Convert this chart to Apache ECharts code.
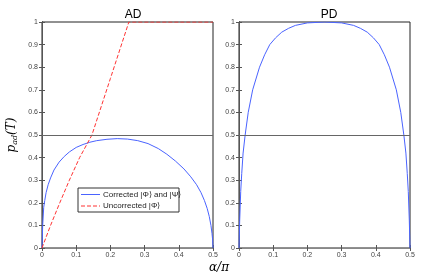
<!DOCTYPE html>
<html><head><meta charset="utf-8">
<script src="https://cdn.jsdelivr.net/npm/echarts@6/dist/echarts.min.js"></script>
<style>html,body{margin:0;padding:0;background:#fff}#c{width:436px;height:278px}</style>
</head><body><div id="c"></div>
<script>
// ---- data ----
const panelTitles = ['AD', 'PD'];
const legendNames = ['Corrected |\u03A6\u27E9 and |\u03A8\u27E9', 'Uncorrected |\u03A6\u27E9'];
const xTicks = [0, 0.1, 0.2, 0.3, 0.4, 0.5];
const yTicks = [0, 0.1, 0.2, 0.3, 0.4, 0.5, 0.6, 0.7, 0.8, 0.9, 1];
const refLevel = 0.5;

const adAlpha     = [0, 0.002, 0.005, 0.008, 0.012, 0.018, 0.025, 0.035, 0.05, 0.065, 0.08, 0.1, 0.12, 0.14, 0.16, 0.19, 0.22, 0.25, 0.28, 0.31, 0.34, 0.365, 0.39, 0.415, 0.435, 0.452, 0.465, 0.475, 0.483, 0.489, 0.494, 0.497, 0.499, 0.5];
const adCorrected = [0, 0.1, 0.18, 0.21, 0.245, 0.28, 0.31, 0.345, 0.38, 0.405, 0.425, 0.445, 0.458, 0.468, 0.475, 0.481, 0.484, 0.482, 0.475, 0.462, 0.44, 0.415, 0.385, 0.35, 0.315, 0.28, 0.245, 0.21, 0.175, 0.14, 0.1, 0.065, 0.035, 0];

const adUncAlpha  = [0, 0.025, 0.052, 0.08, 0.11, 0.146, 0.2, 0.254, 0.3, 0.4, 0.5];
const adUncorrected = [0, 0.1, 0.2, 0.3, 0.4, 0.5, 0.75, 1, 1, 1, 1];

const pdAlpha     = [0, 0.002, 0.005, 0.008, 0.012, 0.018, 0.027, 0.04, 0.06, 0.075, 0.09, 0.107, 0.125, 0.145, 0.165, 0.2, 0.25, 0.3, 0.335, 0.355, 0.375, 0.393, 0.41, 0.425, 0.44, 0.46, 0.473, 0.482, 0.488, 0.492, 0.495, 0.498, 0.5];
const pdCorrected = [0, 0.12, 0.25, 0.33, 0.42, 0.5, 0.6, 0.7, 0.8, 0.855, 0.9, 0.93, 0.955, 0.972, 0.985, 0.996, 1, 0.996, 0.985, 0.972, 0.955, 0.93, 0.9, 0.855, 0.8, 0.7, 0.6, 0.5, 0.42, 0.33, 0.25, 0.12, 0];

const zip = (a, b) => a.map((v, i) => [v, b[i]]);

const BLUE = '#4a63ff', RED = '#ff3333';
const tickFont = { fontSize: 7, color: '#444', fontFamily: 'Liberation Sans' };
const legFont = { fontSize: 8, fill: '#222', fontFamily: 'Liberation Sans' };

const grids = [
  { left: 42, top: 22, width: 171, height: 226, show: true, borderColor: '#222', borderWidth: 1 },
  { left: 239, top: 22, width: 171, height: 226, show: true, borderColor: '#222', borderWidth: 1 }
];

function xAx(g, pos, labels) {
  return { type: 'value', gridIndex: g, min: 0, max: 0.5, interval: 0.1, position: pos,
    axisLine: { show: true, lineStyle: { color: pos === 'bottom' ? '#777' : '#888', width: 1 } },
    axisTick: { show: true, inside: true, length: 3, lineStyle: { color: '#555' } },
    axisLabel: labels ? Object.assign({ margin: 4, formatter: v => String(+v.toFixed(1)) }, tickFont) : { show: false },
    splitLine: { show: false } };
}
function yAx(g, pos, labels) {
  return { type: 'value', gridIndex: g, min: 0, max: 1, interval: 0.1, position: pos,
    axisLine: { show: true, lineStyle: { color: pos === 'left' ? '#000' : '#555', width: 1 } },
    axisTick: { show: true, inside: true, length: 3, lineStyle: { color: '#555' } },
    axisLabel: labels ? Object.assign({ margin: 4, formatter: v => String(+v.toFixed(1)) }, tickFont) : { show: false },
    splitLine: { show: false } };
}

const option = {
  animation: false,
  backgroundColor: '#fff',
  title: [
    { text: panelTitles[0], left: 128, top: 4, textAlign: 'center', textStyle: { fontSize: 12, fontWeight: 'normal', color: '#000', fontFamily: 'Liberation Sans' } },
    { text: panelTitles[1], left: 324, top: 4, textAlign: 'center', textStyle: { fontSize: 12, fontWeight: 'normal', color: '#000', fontFamily: 'Liberation Sans' } }
  ],
  grid: grids,
  xAxis: [xAx(0, 'bottom', true), xAx(1, 'bottom', true), xAx(0, 'top', false), xAx(1, 'top', false)],
  yAxis: [yAx(0, 'left', true), yAx(1, 'left', true), yAx(0, 'right', false), yAx(1, 'right', false)],
  series: [
    { name: legendNames[0], type: 'line', xAxisIndex: 0, yAxisIndex: 0, data: zip(adAlpha, adCorrected),
      symbol: 'none', smooth: false, lineStyle: { color: BLUE, width: 1 }, itemStyle: { color: BLUE }, z: 3,
      markLine: { silent: true, symbol: 'none', label: { show: false }, lineStyle: { color: '#666', width: 1, type: 'solid' }, data: [{ yAxis: refLevel }] } },
    { name: legendNames[1], type: 'line', xAxisIndex: 0, yAxisIndex: 0, data: zip(adUncAlpha, adUncorrected),
      symbol: 'none', lineStyle: { color: RED, width: 1, type: [4, 2] }, itemStyle: { color: RED }, z: 4 },
    { name: 'pd', type: 'line', xAxisIndex: 1, yAxisIndex: 1, data: zip(pdAlpha, pdCorrected),
      symbol: 'none', smooth: false, lineStyle: { color: BLUE, width: 1 }, itemStyle: { color: BLUE }, z: 3,
      markLine: { silent: true, symbol: 'none', label: { show: false }, lineStyle: { color: '#666', width: 1, type: 'solid' }, data: [{ yAxis: refLevel }] } }
  ],
  graphic: [
    { type: 'text', x: 12, y: 135, rotation: Math.PI / 2, style: {
        text: '{p|p}{s|ad}{p|(}{t|T}{p|)}', align: 'center', verticalAlign: 'middle',
        rich: { p: { fontSize: 12, fontFamily: 'DejaVu Serif', fontStyle: 'italic', fill: '#000' },
                s: { fontSize: 8, fontFamily: 'DejaVu Serif', fontStyle: 'italic', fill: '#000', verticalAlign: 'bottom', padding: [6, 0, 0, 0] },
                t: { fontSize: 12, fontFamily: 'DejaVu Serif', fontStyle: 'italic', fill: '#000' } } } },
    { type: 'text', x: 219, y: 268, style: { text: '\u03B1/\u03C0', fontSize: 12, fontFamily: 'DejaVu Serif', fontStyle: 'italic', fill: '#000', align: 'center', verticalAlign: 'middle' } },
    // legend box
    { type: 'group', x: 78, y: 188, z: 100, children: [
      { type: 'rect', shape: { x: 0, y: 0, width: 101, height: 24 }, style: { fill: '#fff', stroke: '#333', lineWidth: 1 } },
      { type: 'line', shape: { x1: 3, y1: 6.5, x2: 22, y2: 6.5 }, style: { stroke: BLUE, lineWidth: 1 } },
      { type: 'text', x: 25, y: 6.5, style: Object.assign({ text: legendNames[0], verticalAlign: 'middle' }, legFont) },
      { type: 'line', shape: { x1: 3, y1: 18, x2: 22, y2: 18 }, style: { stroke: RED, lineWidth: 1, lineDash: [4, 2] } },
      { type: 'text', x: 25, y: 18, style: Object.assign({ text: legendNames[1], verticalAlign: 'middle' }, legFont) }
    ] }
  ]
};
echarts.init(document.getElementById('c'), null, { renderer: 'canvas' }).setOption(option);
</script></body></html>
